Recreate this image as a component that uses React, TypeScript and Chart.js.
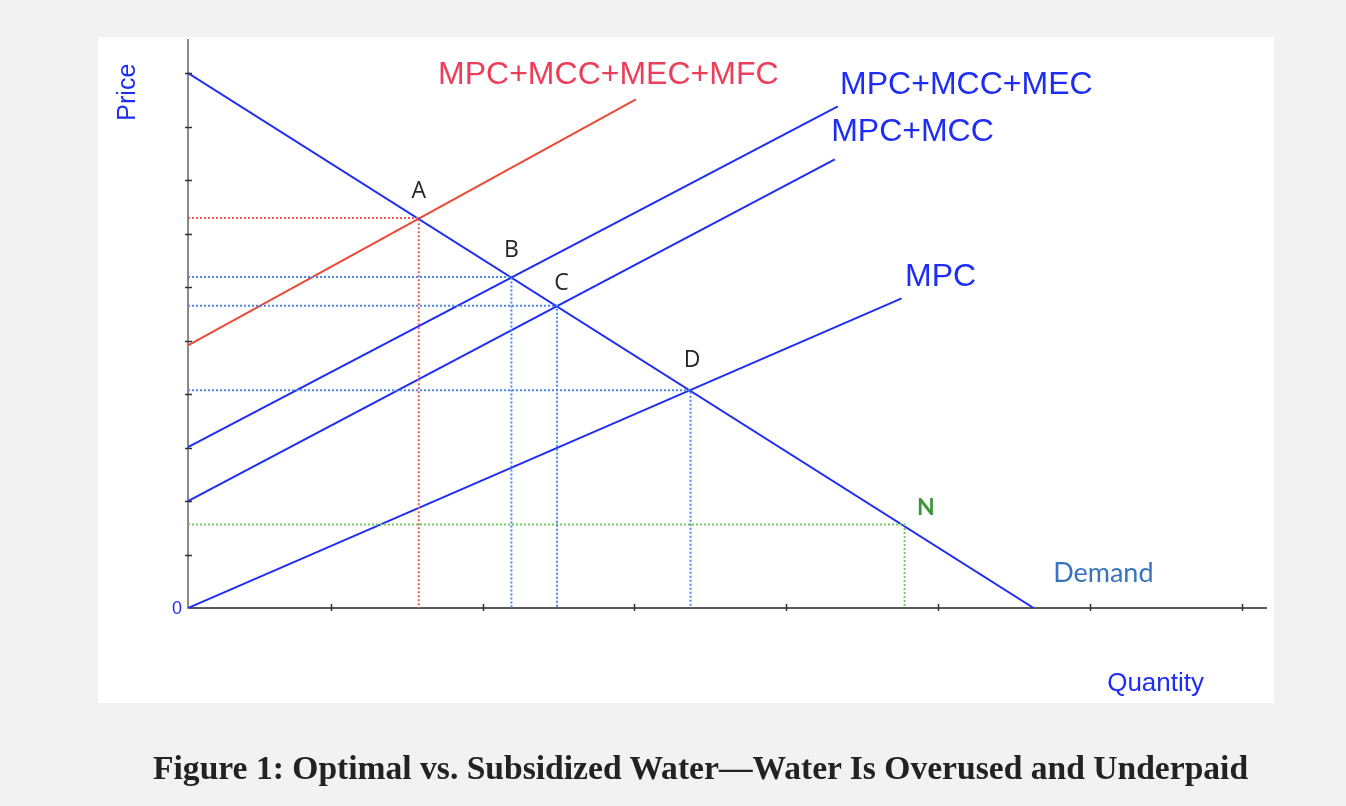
import React, { useEffect, useRef } from "react";
import { Chart, registerables } from "chart.js";
Chart.register(...registerables);

// ---- data (price / quantity units; tick interval = 1) ----
const demandQ = [0, 5.57];
const demandP = [10, 0];
const mpcQ = [0, 4.7];
const mpcP = [0, 5.79];
const mpcMccQ = [0, 4.26];
const mpcMccP = [2.0, 8.39];
const mpcMccMecQ = [0, 4.28];
const mpcMccMecP = [3.01, 9.38];
const fullCostQ = [0, 2.95];
const fullCostP = [4.91, 9.51];

const pointNames = ["A", "B", "C", "D", "N"];
const pointQ = [1.52, 2.13, 2.43, 3.31, 4.72];
const pointP = [7.29, 6.19, 5.65, 4.07, 1.56];

const pointLabelQ = [1.52, 2.13, 2.46, 3.32, 4.86];
const pointLabelP = [7.78, 6.69, 6.06, 4.62, 1.87];

const curveLabels = ["MPC+MCC+MEC+MFC", "MPC+MCC+MEC", "MPC+MCC", "MPC"];
const curveLabelQ = [1.647, 4.295, 4.236, 4.723];
const curveLabelP = [9.96, 9.78, 8.9, 6.19];

const xTickValues = [0.94, 1.94, 2.94, 3.94, 4.94, 5.94, 6.94];
const yTickValues = [1, 2, 3, 4, 5, 6, 7, 8, 9, 10];
const X_MAX = 7.1;
const Y_MAX = 10.62;

const CAPTION = "Figure 1: Optimal vs. Subsidized Water\u2014Water Is Overused and Underpaid";

// ---- styles ----
const BLUE = "rgb(30, 45, 245)";
const RED_LINE = "rgb(236, 72, 52)";
const RED_TEXT = "rgb(236, 62, 88)";
const GUIDE_RED = "rgb(246, 88, 88)";
const GUIDE_BLUE = "rgb(72, 135, 240)";
const GUIDE_GREEN = "rgb(112, 206, 92)";
const guideColors = [GUIDE_RED, GUIDE_BLUE, GUIDE_BLUE, GUIDE_BLUE, GUIDE_GREEN];
const pointLabelColors = ["#262626", "#262626", "#262626", "#262626", "rgb(62, 150, 62)"];
const curveLabelColors = [RED_TEXT, BLUE, BLUE, BLUE];

const pairs = (q: number[], p: number[]) => q.map((v, i) => ({ x: v, y: p[i] }));

const crossTicks = {
  id: "crossTicks",
  afterDraw(chart: any) {
    const { ctx, chartArea } = chart;
    const xs = chart.scales.x;
    const ys = chart.scales.y;
    ctx.save();
    ctx.strokeStyle = "#333";
    ctx.lineWidth = 1.5;
    ctx.beginPath();
    for (const v of yTickValues) {
      const py = Math.round(ys.getPixelForValue(v)) + 0.5;
      ctx.moveTo(chartArea.left - 3, py);
      ctx.lineTo(chartArea.left + 4, py);
    }
    for (const v of xTickValues) {
      const px = Math.round(xs.getPixelForValue(v)) + 0.5;
      ctx.moveTo(px, chartArea.bottom - 4);
      ctx.lineTo(px, chartArea.bottom + 3);
    }
    ctx.stroke();
    ctx.restore();
  },
};

const textLabels = {
  id: "textLabels",
  afterDraw(chart: any) {
    const { ctx } = chart;
    const xs = chart.scales.x;
    const ys = chart.scales.y;
    const X = (v: number) => xs.getPixelForValue(v);
    const Y = (v: number) => ys.getPixelForValue(v);
    ctx.save();
    ctx.textBaseline = "middle";

    // curve names
    ctx.textAlign = "left";
    ctx.font = '32px "Liberation Sans", Arial, sans-serif';
    curveLabels.forEach((t, i) => {
      ctx.fillStyle = curveLabelColors[i];
      ctx.fillText(t, X(curveLabelQ[i]), Y(curveLabelP[i]));
    });

    // point letters
    ctx.textAlign = "center";
    pointNames.forEach((t, i) => {
      ctx.font = i === 4 ? 'bold 23px Lato, "Open Sans", sans-serif' : '23px "Open Sans", Lato, sans-serif';
      ctx.fillStyle = pointLabelColors[i];
      ctx.fillText(t, X(pointLabelQ[i]), Y(pointLabelP[i]));
    });

    // demand label
    ctx.textAlign = "left";
    ctx.font = '27px Lato, "Open Sans", sans-serif';
    ctx.fillStyle = "rgb(55, 115, 190)";
    ctx.fillText("Demand", X(5.698), Y(0.654));

    // axis titles
    ctx.font = '26px "Liberation Sans", Arial, sans-serif';
    ctx.fillStyle = BLUE;
    ctx.fillText("Quantity", X(6.054), Y(-1.42));

    ctx.save();
    ctx.translate(X(-0.395), Y(9.645));
    ctx.rotate(-Math.PI / 2);
    ctx.textAlign = "center";
    ctx.font = '25px "Liberation Sans", Arial, sans-serif';
    ctx.fillText("Price", 0, 0);
    ctx.restore();

    ctx.textAlign = "right";
    ctx.font = '18px "Liberation Sans", Arial, sans-serif';
    ctx.fillText("0", X(-0.04), Y(0) + 1);
    ctx.restore();
  },
};

export default function App() {
  const ref = useRef<HTMLCanvasElement | null>(null);

  useEffect(() => {
    if (!ref.current) return;
    const guides = pointNames.map((n, i) => ({
      label: "guide " + n,
      data: [
        { x: 0, y: pointP[i] },
        { x: pointQ[i], y: pointP[i] },
        { x: pointQ[i], y: 0 },
      ],
      borderColor: guideColors[i],
      borderWidth: 2,
      borderDash: [2, 2],
      showLine: true,
      pointRadius: 0,
      fill: false,
    }));
    const curve = (label: string, q: number[], p: number[], color: string) => ({
      label,
      data: pairs(q, p),
      borderColor: color,
      borderWidth: 2,
      showLine: true,
      pointRadius: 0,
      fill: false,
    });
    const chart = new Chart(ref.current, {
      type: "scatter",
      data: {
        datasets: [
          ...guides,
          curve("Demand", demandQ, demandP, BLUE),
          curve("MPC", mpcQ, mpcP, BLUE),
          curve("MPC+MCC", mpcMccQ, mpcMccP, BLUE),
          curve("MPC+MCC+MEC", mpcMccMecQ, mpcMccMecP, BLUE),
          curve("MPC+MCC+MEC+MFC", fullCostQ, fullCostP, RED_LINE),
        ] as any,
      },
      options: {
        responsive: false,
        animation: false,
        devicePixelRatio: 1,
        layout: { padding: { left: 188, top: 40, right: 80, bottom: 198 } },
        plugins: { legend: { display: false }, tooltip: { enabled: false }, title: { display: false } },
        scales: {
          x: {
            type: "linear",
            min: 0,
            max: X_MAX,
            grid: { display: false },
            ticks: { display: false },
            border: { display: true, color: "#5a5a5a", width: 2 },
            afterBuildTicks: (s: any) => {
              s.ticks = xTickValues.map((v) => ({ value: v }));
            },
            afterFit: (s: any) => {
              s.height = 0;
            },
          },
          y: {
            type: "linear",
            min: 0,
            max: Y_MAX,
            grid: { display: false },
            ticks: { display: false },
            border: { display: true, color: "#8a8a8a", width: 2 },
            afterBuildTicks: (s: any) => {
              s.ticks = yTickValues.map((v) => ({ value: v }));
            },
            afterFit: (s: any) => {
              s.width = 0;
            },
          },
        },
      } as any,
      plugins: [crossTicks, textLabels],
    });
    return () => chart.destroy();
  }, []);

  return (
    <div style={{ position: "fixed", left: 0, top: 0, width: 1346, height: 806, background: "#f2f2f2", overflow: "hidden" }}>
      <div style={{ position: "absolute", left: 98, top: 37, width: 1176, height: 666, background: "#ffffff" }} />
      <canvas ref={ref} width={1346} height={806} style={{ position: "absolute", left: 0, top: 0, width: 1346, height: 806 }} />
      <div
        style={{
          position: "absolute",
          left: 153,
          top: 750,
          whiteSpace: "nowrap",
          fontFamily: '"Liberation Serif", "Times New Roman", serif',
          fontWeight: "bold",
          fontSize: 33.6,
          lineHeight: "36px",
          color: "#222",
        }}
      >
        {CAPTION}
      </div>
    </div>
  );
}
